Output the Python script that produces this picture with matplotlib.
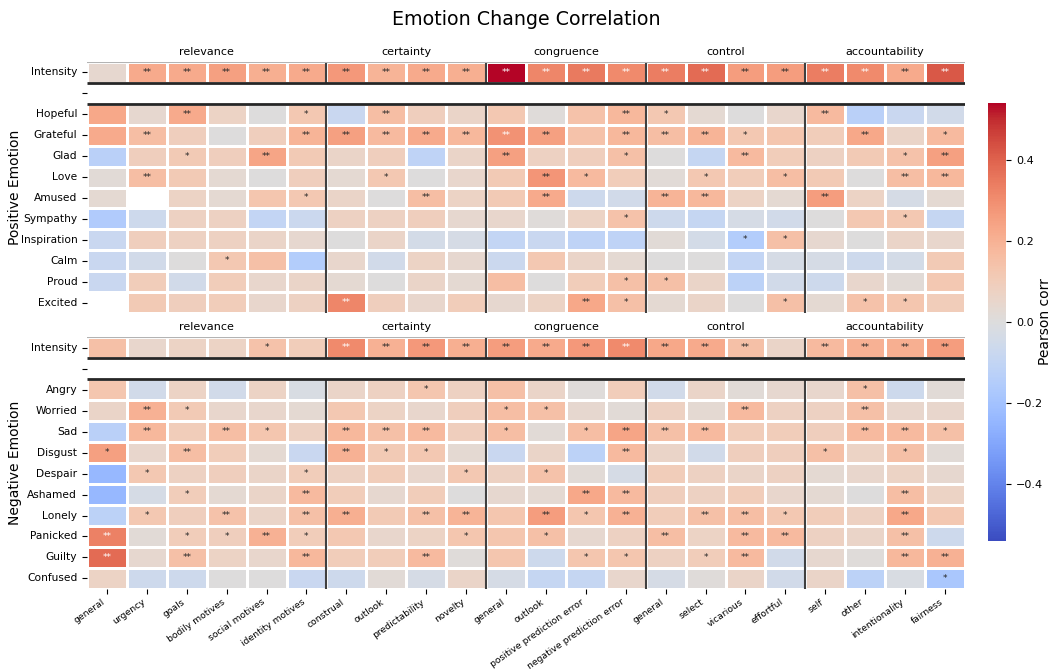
import numpy as np
import matplotlib
matplotlib.use("Agg")
import matplotlib.pyplot as plt
import seaborn as sns

columns = ["general", "urgency", "goals", "bodily motives", "social motives", "identity motives",
           "construal", "outlook", "predictability", "novelty",
           "general", "outlook", "positive prediction error", "negative prediction error",
           "general", "select", "vicarious", "effortful",
           "self", "other", "intentionality", "fairness"]
groups = ["relevance", "certainty", "congruence", "control", "accountability"]
group_sizes = [6, 4, 4, 4, 4]

pos_rows = ["Intensity", "", "Hopeful", "Grateful", "Glad", "Love", "Amused", "Sympathy",
            "Inspiration", "Calm", "Proud", "Excited"]
neg_rows = ["Intensity", "", "Angry", "Worried", "Sad", "Disgust", "Despair", "Ashamed",
            "Lonely", "Panicked", "Guilty", "Confused"]

nan = np.nan
pos_values = [
    [0.04, 0.22, 0.22, 0.25, 0.21, 0.22, 0.27, 0.19, 0.22, 0.21, 0.54, 0.32, 0.35, 0.31, 0.34, 0.38, 0.26, 0.26, 0.34, 0.31, 0.22, 0.42],
    [nan] * 22,
    [0.23, 0.04, 0.22, 0.07, 0.00, 0.12, -0.08, 0.16, 0.09, 0.06, 0.12, 0.01, 0.14, 0.18, 0.12, 0.03, 0.00, 0.05, 0.17, -0.13, -0.08, -0.05],
    [0.22, 0.16, 0.09, 0.00, 0.09, 0.19, 0.25, 0.17, 0.22, 0.18, 0.29, 0.25, 0.14, 0.18, 0.16, 0.19, 0.12, 0.13, 0.10, 0.23, 0.06, 0.17],
    [-0.13, 0.09, 0.11, 0.09, 0.24, 0.11, 0.06, 0.09, -0.11, 0.06, 0.25, 0.08, 0.09, 0.15, 0.00, -0.09, 0.17, 0.10, 0.08, 0.11, 0.14, 0.25],
    [0.02, 0.16, 0.11, 0.03, 0.00, 0.09, 0.03, 0.12, 0.00, 0.05, 0.11, 0.28, 0.17, 0.10, 0.02, 0.12, 0.10, 0.16, 0.11, 0.00, 0.16, 0.18],
    [0.03, nan, 0.07, 0.03, 0.13, 0.12, 0.06, 0.00, 0.16, 0.07, 0.11, 0.22, -0.06, -0.05, 0.19, 0.18, 0.07, 0.03, 0.26, 0.07, -0.03, 0.03],
    [-0.16, -0.06, 0.08, 0.08, -0.10, -0.07, 0.08, 0.08, 0.09, 0.04, 0.05, 0.01, 0.07, 0.14, -0.06, -0.09, -0.03, -0.05, 0.00, 0.12, 0.12, -0.09],
    [-0.08, 0.09, 0.08, 0.08, 0.06, 0.04, 0.00, 0.06, -0.04, -0.03, -0.10, -0.08, -0.11, -0.11, 0.02, -0.04, -0.15, 0.15, 0.04, 0.00, 0.06, 0.05],
    [-0.08, -0.05, 0.00, 0.12, 0.15, -0.15, 0.05, -0.05, 0.07, 0.04, -0.07, 0.12, 0.06, 0.03, 0.00, 0.00, -0.10, -0.03, -0.03, -0.06, -0.04, 0.11],
    [-0.08, 0.10, -0.05, 0.10, 0.05, 0.06, 0.03, 0.00, 0.06, 0.03, 0.16, 0.00, 0.10, 0.15, 0.15, 0.06, -0.12, -0.05, -0.06, 0.05, 0.02, 0.12],
    [nan, 0.11, 0.09, 0.10, 0.05, 0.08, 0.32, 0.09, 0.05, 0.10, 0.04, 0.07, 0.23, 0.15, 0.03, 0.06, 0.00, 0.15, 0.03, 0.14, 0.13, 0.10],
]
pos_stars = [
    [0, 2, 2, 2, 2, 2, 2, 2, 2, 2, 2, 2, 2, 2, 2, 2, 2, 2, 2, 2, 2, 2],
    [0] * 22,
    [0, 0, 2, 0, 0, 1, 0, 2, 0, 0, 0, 0, 0, 2, 1, 0, 0, 0, 2, 0, 0, 0],
    [0, 2, 0, 0, 0, 2, 2, 2, 2, 2, 2, 2, 0, 2, 2, 2, 1, 0, 0, 2, 0, 1],
    [0, 0, 1, 0, 2, 0, 0, 0, 0, 0, 2, 0, 0, 1, 0, 0, 2, 0, 0, 0, 1, 2],
    [0, 2, 0, 0, 0, 0, 0, 1, 0, 0, 0, 2, 1, 0, 0, 1, 0, 1, 0, 0, 2, 2],
    [0, 0, 0, 0, 0, 1, 0, 0, 2, 0, 0, 2, 0, 0, 2, 2, 0, 0, 2, 0, 0, 0],
    [0, 0, 0, 0, 0, 0, 0, 0, 0, 0, 0, 0, 0, 1, 0, 0, 0, 0, 0, 0, 1, 0],
    [0, 0, 0, 0, 0, 0, 0, 0, 0, 0, 0, 0, 0, 0, 0, 0, 1, 1, 0, 0, 0, 0],
    [0, 0, 0, 1, 0, 0, 0, 0, 0, 0, 0, 0, 0, 0, 0, 0, 0, 0, 0, 0, 0, 0],
    [0, 0, 0, 0, 0, 0, 0, 0, 0, 0, 0, 0, 0, 1, 1, 0, 0, 0, 0, 0, 0, 0],
    [0, 0, 0, 0, 0, 0, 2, 0, 0, 0, 0, 0, 2, 1, 0, 0, 0, 1, 0, 1, 1, 0],
]

neg_values = [
    [0.15, 0.05, 0.07, 0.07, 0.14, 0.10, 0.31, 0.20, 0.27, 0.21, 0.26, 0.22, 0.27, 0.31, 0.23, 0.22, 0.15, 0.06, 0.17, 0.20, 0.21, 0.26],
    [nan] * 22,
    [0.13, -0.05, 0.07, -0.05, 0.07, -0.02, 0.06, 0.08, 0.13, 0.08, 0.15, 0.06, 0.01, 0.10, -0.05, 0.06, 0.02, 0.04, 0.05, 0.15, -0.06, 0.02],
    [0.06, 0.20, 0.11, 0.05, 0.05, 0.03, 0.12, 0.07, 0.05, 0.09, 0.16, 0.15, 0.04, 0.02, 0.08, 0.03, 0.17, 0.08, 0.08, 0.15, 0.05, 0.05],
    [-0.13, 0.18, 0.10, 0.16, 0.13, 0.08, 0.18, 0.15, 0.17, 0.09, 0.16, 0.02, 0.16, 0.24, 0.15, 0.17, 0.10, 0.10, 0.09, 0.17, 0.17, 0.15],
    [0.25, 0.05, 0.16, 0.10, 0.03, -0.08, 0.20, 0.11, 0.12, 0.03, -0.08, 0.06, -0.12, 0.17, 0.06, -0.05, 0.09, 0.09, 0.15, 0.07, 0.15, 0.02],
    [-0.24, 0.12, 0.08, 0.09, 0.06, 0.10, 0.08, 0.10, 0.05, 0.12, 0.08, 0.14, 0.02, -0.03, 0.10, 0.08, 0.06, 0.08, 0.03, 0.05, 0.07, 0.04],
    [-0.24, -0.03, 0.10, 0.03, 0.06, 0.17, 0.10, 0.04, 0.10, 0.00, 0.04, 0.03, 0.23, 0.17, 0.09, 0.08, 0.10, 0.05, 0.03, 0.00, 0.16, 0.07],
    [-0.12, 0.12, 0.09, 0.14, 0.06, 0.15, 0.21, 0.11, 0.15, 0.19, 0.13, 0.26, 0.13, 0.20, 0.10, 0.15, 0.16, 0.12, 0.10, 0.08, 0.23, 0.12],
    [0.33, 0.02, 0.10, 0.09, 0.20, 0.10, 0.12, 0.05, 0.07, 0.13, 0.13, 0.15, 0.04, 0.08, 0.16, 0.07, 0.17, 0.17, 0.08, 0.06, 0.15, -0.06],
    [0.38, 0.04, 0.15, 0.07, 0.05, 0.18, 0.10, 0.10, 0.17, 0.01, 0.13, -0.06, 0.13, 0.13, 0.08, 0.10, 0.17, -0.05, 0.04, 0.01, 0.18, 0.20],
    [0.07, -0.06, -0.06, 0.00, 0.00, -0.08, -0.06, 0.02, -0.03, 0.06, -0.03, -0.09, -0.09, 0.05, -0.03, 0.01, 0.06, -0.05, 0.06, -0.12, -0.02, -0.18],
]
neg_stars = [
    [0, 0, 0, 0, 1, 0, 2, 2, 2, 2, 2, 2, 2, 2, 2, 2, 2, 0, 2, 2, 2, 2],
    [0] * 22,
    [0, 0, 0, 0, 0, 0, 0, 0, 1, 0, 0, 0, 0, 0, 0, 0, 0, 0, 0, 1, 0, 0],
    [0, 2, 1, 0, 0, 0, 0, 0, 0, 0, 1, 1, 0, 0, 0, 0, 2, 0, 0, 2, 0, 0],
    [0, 2, 0, 2, 1, 0, 2, 2, 2, 0, 1, 0, 1, 2, 2, 2, 0, 0, 0, 2, 2, 1],
    [1, 0, 2, 0, 0, 0, 2, 1, 1, 0, 0, 0, 0, 2, 0, 0, 0, 0, 1, 0, 1, 0],
    [0, 1, 0, 0, 0, 1, 0, 0, 0, 1, 0, 1, 0, 0, 0, 0, 0, 0, 0, 0, 0, 0],
    [0, 0, 1, 0, 0, 2, 0, 0, 0, 0, 0, 0, 2, 2, 0, 0, 0, 0, 0, 0, 2, 0],
    [0, 1, 0, 2, 0, 2, 2, 0, 2, 2, 0, 2, 1, 2, 0, 2, 2, 1, 0, 0, 2, 0],
    [2, 0, 1, 1, 2, 1, 0, 0, 0, 1, 0, 1, 0, 0, 2, 0, 2, 2, 0, 0, 2, 0],
    [2, 0, 2, 0, 0, 2, 0, 0, 2, 0, 0, 0, 1, 1, 0, 1, 2, 0, 0, 0, 2, 2],
    [0, 0, 0, 0, 0, 0, 0, 0, 0, 0, 0, 0, 0, 0, 0, 0, 0, 0, 0, 0, 0, 1],
]

vlim = 0.54
bounds = np.cumsum(group_sizes)[:-1]
centers = np.cumsum(group_sizes) - np.array(group_sizes) / 2


def draw_panel(ax, values, stars, rows, ylabel, cbar_ax=None, show_x=False):
    data = np.array(values, dtype=float)
    labels = np.array([["*" * n for n in r] for r in stars])
    sns.heatmap(data, ax=ax, cmap="coolwarm", vmin=-vlim, vmax=vlim, annot=labels, fmt="",
                annot_kws={"size": 6.5}, linewidths=0.8, linecolor="white",
                cbar=cbar_ax is not None, cbar_ax=cbar_ax,
                xticklabels=columns if show_x else False, yticklabels=rows)
    ax.vlines(bounds, 0, 1, color="0.25", lw=1.5)
    ax.vlines(bounds, 2, 12, color="0.25", lw=1.5)
    ax.hlines([1, 2], 0, 22, color="0.15", lw=2)
    ax.hlines(0, 0, 22, color="0.7", lw=1.5)
    for g, c in zip(groups, centers):
        ax.text(c, -0.25, g, ha="center", va="bottom", fontsize=8)
    ax.set_ylabel(ylabel, fontsize=10)
    ax.yaxis.set_label_coords(-0.074, 0.5)
    ax.tick_params(axis="y", labelsize=7.7, rotation=0)
    if show_x:
        ax.tick_params(axis="x", pad=2.5)
        plt.setp(ax.get_xticklabels(), rotation=35, ha="right", fontsize=6.7)


fig = plt.figure(figsize=(10.53, 6.7), dpi=100)
ax_top = fig.add_axes([0.0826, 0.5328, 0.8338, 0.3746])
ax_bot = fig.add_axes([0.0826, 0.1209, 0.8338, 0.3761])
cax = fig.add_axes([0.9383, 0.1925, 0.0171, 0.6537])

draw_panel(ax_top, pos_values, pos_stars, pos_rows, "Positive Emotion", cbar_ax=cax)
draw_panel(ax_bot, neg_values, neg_stars, neg_rows, "Negative Emotion", show_x=True)

cax.tick_params(labelsize=8)
cax.set_yticks([-0.4, -0.2, 0.0, 0.2, 0.4])
cax.set_ylabel("Pearson corr", fontsize=10)
cax.yaxis.set_label_position("right")
cax.yaxis.set_label_coords(2.75, 0.5)

fig.suptitle("Emotion Change Correlation", fontsize=13.7, y=0.985)
fig.savefig("out.png", dpi=100)
